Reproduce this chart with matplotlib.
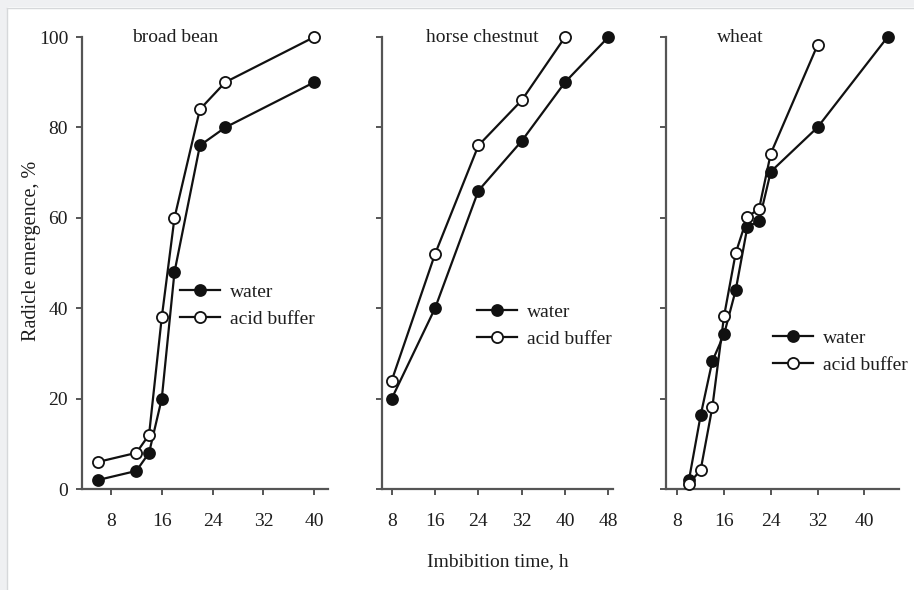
import matplotlib
matplotlib.use("Agg")
import matplotlib.pyplot as plt
from matplotlib.patches import Rectangle
from matplotlib.lines import Line2D

plt.rcParams['font.family'] = ['Liberation Serif', 'DejaVu Serif']

# ---- data ----
bean_time = [6, 12, 14, 16, 18, 22, 26, 40]
bean_water = [2, 4, 8, 20, 48, 76, 80, 90]
bean_acid = [6, 8, 12, 38, 60, 84, 90, 100]

chest_water_time = [8, 16, 24, 32, 40, 48]
chest_water = [20, 40, 66, 77, 90, 100]
chest_acid_time = [8, 16, 24, 32, 40]
chest_acid = [24, 52, 76, 86, 100]

wheat_water_time = [10, 12, 14, 16, 18, 20, 22, 24, 32, 44]
wheat_water = [2, 16.3, 28.3, 34.2, 44, 58, 59.3, 70.2, 80, 100]
wheat_acid_time = [10, 12, 14, 16, 18, 20, 22, 24, 32]
wheat_acid = [1.2, 4.2, 18.1, 38.2, 52.2, 60.2, 62, 74.2, 98.2]

titles = ["broad bean", "horse chestnut", "wheat"]
xticks_list = [[8, 16, 24, 32, 40], [8, 16, 24, 32, 40, 48], [8, 16, 24, 32, 40]]
yticks = [0, 20, 40, 60, 80, 100]
ylabel = "Radicle emergence, %"
xlabel = "Imbibition time, h"
legend_labels = ["water", "acid buffer"]

# ---- layout ----
W, H = 914, 590
fig = plt.figure(figsize=(W / 100, H / 100), dpi=100)
fig.patch.set_facecolor('white')

# light gray page frame (top and left bands)
fig.add_artist(Rectangle((0, 1 - 7 / H), 1, 7 / H, transform=fig.transFigure,
                         facecolor='#eff0f2', edgecolor='none', zorder=0))
fig.add_artist(Rectangle((0, 0), 7 / W, 1, transform=fig.transFigure,
                         facecolor='#eff0f2', edgecolor='none', zorder=0))
fig.add_artist(Line2D([7 / W, 1], [1 - 7.5 / H, 1 - 7.5 / H], transform=fig.transFigure,
                      color='#d6d8da', lw=1))
fig.add_artist(Line2D([7.5 / W, 7.5 / W], [0, 1 - 7.5 / H], transform=fig.transFigure,
                      color='#d6d8da', lw=1))

top_px, bot_px = 37, 489
panels = [
    dict(left=82, right=328, xlim=(3.45, 42.15), title_x=0.378,
         leg=(180, 305.7)),
    dict(left=381.7, right=613.3, xlim=(6.15, 48.9), title_x=0.4365,
         leg=(477, 325.5)),
    dict(left=666, right=899.3, xlim=(6.07, 46.0), title_x=0.317,
         leg=(773, 351.5)),
]
series = [
    ((bean_time, bean_water), (bean_time, bean_acid)),
    ((chest_water_time, chest_water), (chest_acid_time, chest_acid)),
    ((wheat_water_time, wheat_water), (wheat_acid_time, wheat_acid)),
]

txt_color = '#1e1e1e'
axis_color = '#555555'
fs = 14

for i, p in enumerate(panels):
    ax = fig.add_axes([p['left'] / W, 1 - bot_px / H, (p['right'] - p['left']) / W,
                       (bot_px - top_px) / H])
    (wx, wy), (ax_, ay) = series[i]
    lw_ = ax.plot(wx, wy, color='#111111', lw=1.6, marker='o', ms=8,
                  mfc='#111111', mec='#111111', mew=1.2, clip_on=False, zorder=3,
                  label=legend_labels[0])[0]
    la_ = ax.plot(ax_, ay, color='#111111', lw=1.6, marker='o', ms=8,
                  mfc='white', mec='#111111', mew=1.3, clip_on=False, zorder=4,
                  label=legend_labels[1])[0]
    ax.set_xlim(*p['xlim'])
    ax.set_ylim(0, 100)
    ax.set_xticks(xticks_list[i])
    ax.set_yticks(yticks)
    for s in ['top', 'right']:
        ax.spines[s].set_visible(False)
    for s in ['left', 'bottom']:
        ax.spines[s].set_color(axis_color)
        ax.spines[s].set_linewidth(1.6)
    ax.tick_params(axis='both', direction='out', length=4, width=1.4,
                   color=axis_color, labelsize=fs, labelcolor=txt_color)
    ax.tick_params(axis='x', pad=13)
    ax.tick_params(axis='y', pad=6)
    if i > 0:
        ax.set_yticklabels([])
    ax.patch.set_alpha(0)
    ax.text(p['title_x'], 1.0, titles[i], transform=ax.transAxes, ha='center',
            va='center', fontsize=fs, color=txt_color)
    lx, ly = p['leg']
    ax.legend(handles=[lw_, la_], loc='center left',
              bbox_to_anchor=(lx / W, 1 - ly / H), bbox_transform=fig.transFigure,
              frameon=False, fontsize=fs, handlelength=2.05, handletextpad=0.5,
              labelspacing=0.5, borderpad=0, borderaxespad=0, labelcolor=txt_color)

fig.text(32 / W, 1 - 251 / H, ylabel, rotation=90, ha='center', va='center',
         fontsize=fs + 0.5, color=txt_color)
fig.text(497.5 / W, 1 - 562 / H, xlabel, ha='center', va='center',
         fontsize=fs, color=txt_color)

fig.savefig('out.png', dpi=100)
